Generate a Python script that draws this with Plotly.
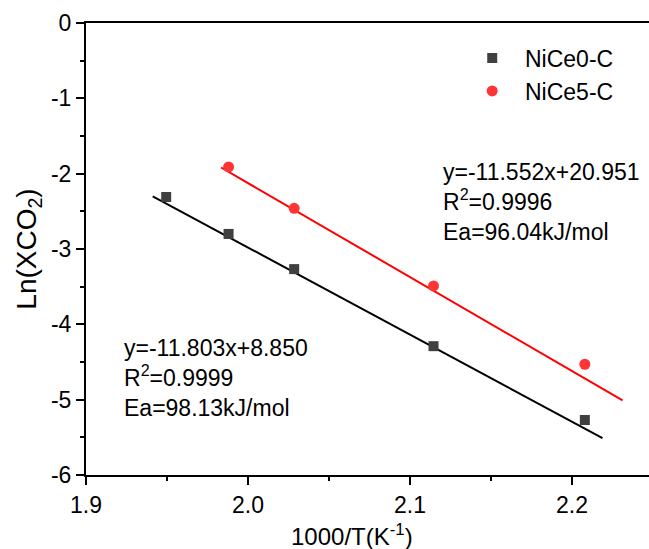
import plotly.graph_objects as go

# Data
x_nice0 = [1.9495, 1.988, 2.0285, 2.1145, 2.2079]
y_nice0 = [-2.31, -2.80, -3.267, -4.29, -5.27]
x_nice5 = [1.988, 2.0285, 2.1145, 2.2079]
y_nice5 = [-1.91, -2.46, -3.49, -4.53]

# Linear fit lines (endpoints as drawn in the reference)
fit0_x = [1.9412, 2.2188]
fit0_y = [-2.30, -5.51]
fit5_x = [1.9834, 2.2312]
fit5_y = [-1.918, -5.01]

x_ticks = [1.9, 2.0, 2.1, 2.2]
x_ticktext = ["1.9", "2.0", "2.1", "2.2"]
y_ticks = [0, -1, -2, -3, -4, -5, -6]
y_ticktext = ["0", "-1", "-2", "-3", "-4", "-5", "-6"]

text_nice0 = "y=-11.803x+8.850<br>R<sup>2</sup>=0.9999<br>Ea=98.13kJ/mol"
text_nice5 = "y=-11.552x+20.951<br>R<sup>2</sup>=0.9996<br>Ea=96.04kJ/mol"
x_title = "1000/T(K<sup>-1</sup>)"
y_title = "Ln(XCO<sub>2</sub>)"

FONT = "Arial, Liberation Sans, sans-serif"
NB = "\u00a0\u00a0"

fig = go.Figure()
fig.add_trace(go.Scatter(x=fit0_x, y=fit0_y, mode="lines",
                         line=dict(color="#000000", width=2), showlegend=False, hoverinfo="skip"))
fig.add_trace(go.Scatter(x=fit5_x, y=fit5_y, mode="lines",
                         line=dict(color="#ff0000", width=2), showlegend=False, hoverinfo="skip"))
fig.add_trace(go.Scatter(x=x_nice0, y=y_nice0, mode="markers", name=NB + "NiCe0-C",
                         marker=dict(symbol="square", size=10, color="#404040")))
fig.add_trace(go.Scatter(x=x_nice5, y=y_nice5, mode="markers", name=NB + "NiCe5-C",
                         marker=dict(symbol="circle", size=11, color="#ff3535")))

fig.add_annotation(x=2.1192, y=-2.38, xref="x", yref="y", text=text_nice5,
                   showarrow=False, xanchor="left", yanchor="middle", align="left",
                   font=dict(family=FONT, size=23, color="#000"))
fig.add_annotation(x=1.922, y=-4.71, xref="x", yref="y", text=text_nice0,
                   showarrow=False, xanchor="left", yanchor="middle", align="left",
                   font=dict(family=FONT, size=23, color="#000"))
# x-axis title placed as an annotation so it can sit lower, as in the reference
fig.add_annotation(x=0.472, y=-0.133, xref="paper", yref="paper", text=x_title,
                   showarrow=False, xanchor="center", yanchor="middle",
                   font=dict(family=FONT, size=24, color="#000"))

fig.update_layout(
    width=649, height=549,
    margin=dict(l=86, r=0, t=23, b=74),
    plot_bgcolor="white", paper_bgcolor="white",
    font=dict(family=FONT, size=23, color="#000"),
    legend=dict(x=0.686, y=0.97, xanchor="left", yanchor="top",
                bgcolor="rgba(0,0,0,0)", font=dict(size=23)),
    xaxis=dict(range=[1.9, 2.2475], tickvals=x_ticks, ticktext=x_ticktext,
               automargin=False,
               showline=True, linecolor="#000", linewidth=2, mirror=True,
               ticks="outside", ticklen=8, tickwidth=2, tickcolor="#000",
               minor=dict(ticks="outside", ticklen=4, tickwidth=2, tickcolor="#000",
                          tickvals=[1.95, 2.05, 2.15, 2.25]),
               showgrid=False, zeroline=False),
    yaxis=dict(range=[-6, 0], tickvals=y_ticks, ticktext=y_ticktext,
               automargin=False,
               showline=True, linecolor="#000", linewidth=2, mirror=False,
               ticks="outside", ticklen=8, tickwidth=2, tickcolor="#000",
               minor=dict(ticks="outside", ticklen=4, tickwidth=2, tickcolor="#000",
                          tickvals=[-0.5, -1.5, -2.5, -3.5, -4.5, -5.5]),
               showgrid=False, zeroline=False,
               title=dict(text=y_title, standoff=6)),
)

fig.write_html("out.html")
